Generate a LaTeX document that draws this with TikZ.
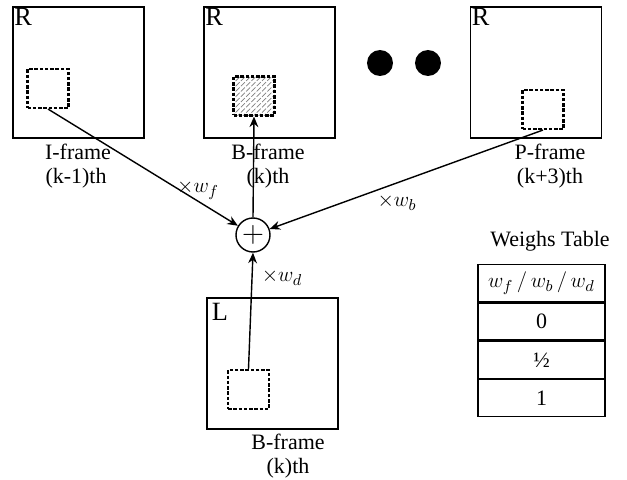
\documentclass[tikz,border=0pt]{standalone}
\usepackage{fontspec}
\setmainfont{Liberation Serif}
\usetikzlibrary{positioning,patterns,arrows.meta}

\tikzset{
  frame/.style={draw, thick, minimum width=2.62cm, minimum height=2.62cm, inner sep=0pt},
  blk/.style={draw, very thick, dashed, dash pattern=on 2pt off 1pt, minimum width=0.82cm, minimum height=0.78cm, inner sep=0pt},
  tag/.style={anchor=north west, inner sep=1pt, font=\fontsize{15}{17}\selectfont},
  lbl/.style={align=center, inner sep=0pt},
  arr/.style={thick, -{Stealth[length=6pt,width=5pt]}},
  cell/.style={draw, thick, minimum width=2.54cm, minimum height=0.74cm, inner sep=0pt},
}

\begin{document}
\begin{tikzpicture}[x=0.02cm, y=-0.02cm, font=\fontsize{12.5}{14}\selectfont]
  \useasboundingbox (0,0) rectangle (627,480);

  % reference frames
  \node[frame] (fI) at (78.5,72.5) {};
  \node[frame] (fB) at (269.5,72.5) {};
  \node[frame] (fP) at (536,72.5) {};
  \node[frame] (fL) at (272.5,363.5) {};

  \node[tag] (rI) at (fI.north west) {R};
  \node[tag] (rB) at (fB.north west) {R};
  \node[tag] (rP) at (fP.north west) {R};
  \node[tag] (rL) at ([xshift=2pt,yshift=-2pt]fL.north west) {L};

  % blocks
  \node[blk] (bI) at (48,88.5) {};
  \node[blk, pattern=north east lines, pattern color=gray] (bB) at (254,96) {};
  \node[blk] (bP) at (543,109.5) {};
  \node[blk] (bL) at (248.5,389.5) {};

  % dots
  \fill (380,63) circle (13);
  \fill (428,63) circle (13);

  % frame names
  \node[lbl] (nI) at (78,152) {I-frame};
  \node[lbl] (kI) at (76,178) {(k-1)th};
  \node[lbl] (nB) at (268,152) {B-frame};
  \node[lbl] (kB) at (268,178) {(k)th};
  \node[lbl] (nP) at (550,152) {P-frame};
  \node[lbl] (kP) at (550,178) {(k+3)th};
  \node[lbl] (nL) at (288,442) {B-frame};
  \node[lbl] (kL) at (288,468) {(k)th};

  % sum
  \node[circle, draw, thick, minimum size=0.68cm, inner sep=0pt, font=\LARGE] (sum) at (253,235) {$+$};

  \draw[arr] (bI.south) -- (sum);
  \draw[arr] (bP.south) -- (sum);
  \draw[arr] (bL.north) -- (sum.south);
  \draw[arr] (sum.north) -- (bB.south);

  \node[lbl] (wf) at (198,190) {$\times w_f$};
  \node[lbl] (wb) at (397,202) {$\times w_b$};
  \node[lbl] (wd) at (282,277) {$\times w_d$};

  % weighs table
  \node[lbl] (title) at (550,241) {Weighs Table};
  \node[cell] (t0) at (541.5,283) {$w_f \,/\, w_b \,/\, w_d$};
  \node[cell, below=0pt of t0] (t1) {0};
  \node[cell, below=0pt of t1] (t2) {½};
  \node[cell, below=0pt of t2] (t3) {1};
\end{tikzpicture}
\end{document}
